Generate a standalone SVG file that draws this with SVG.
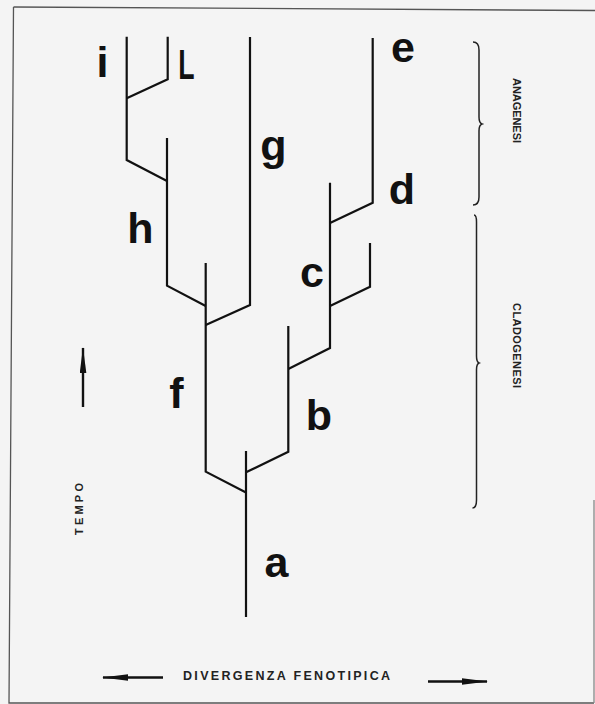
<svg xmlns="http://www.w3.org/2000/svg" width="595" height="704" viewBox="0 0 595 704">
  <style>
    .br { fill: none; stroke: #111; stroke-width: 2.2; stroke-linejoin: miter; stroke-linecap: butt; }
    .lbl { font-family: "Liberation Sans", Arial, sans-serif; font-weight: bold; font-size: 43px; fill: #111; text-anchor: middle; }
    .cap { font-family: "Liberation Sans", Arial, sans-serif; font-weight: bold; font-size: 11px; fill: #222; text-anchor: middle; }
    .brace { fill: none; stroke: #222; stroke-width: 1.5; }
    .ax { stroke: #111; stroke-width: 2.4; fill: none; }
  </style>
  <defs>
    <marker id="arr" viewBox="0 -3.5 26 7" markerWidth="26" markerHeight="7" refX="25" refY="0" orient="auto" markerUnits="userSpaceOnUse">
      <path d="M0,-3.3 L26,0 L0,3.3 Z" fill="#111"/>
    </marker>
  </defs>
  <rect x="0" y="0" width="595" height="704" fill="#f4f4f4"/>
  <g id="frame" fill="none" stroke="#555" stroke-width="1.3">
    <path d="M13.5,7 L595,10.5"/>
    <path d="M13.5,7 L9,703 L594,703"/>
    <path d="M594,500 L594,703" stroke="#888"/>
  </g>

  <g id="connectors">
    <path class="br" d="M246,617 V451"/>
    <path class="br" d="M246,492.5 L205.7,471.7 V263"/>
    <path class="br" d="M246,472.3 L288.3,451.7 V326"/>
    <path class="br" d="M288.3,369 L330,348 V182.7"/>
    <path class="br" d="M330,306 L370,286.7 V243"/>
    <path class="br" d="M330,223 L372.7,202.7 V38"/>
    <path class="br" d="M205.7,325 L250,305 V37"/>
    <path class="br" d="M205.7,306 L167,285.7 V138"/>
    <path class="br" d="M167,181 L126.7,160 V36.7"/>
    <path class="br" d="M126.7,98.3 L167.7,79.3 V36.7"/>
  </g>

  <g id="node-a"><text class="lbl" x="276.5" y="577">a</text></g>
  <g id="node-b"><text class="lbl" x="319" y="430">b</text></g>
  <g id="node-c"><text class="lbl" x="312" y="287">c</text></g>
  <g id="node-d"><text class="lbl" x="402" y="204">d</text></g>
  <g id="node-e"><text class="lbl" x="403" y="62">e</text></g>
  <g id="node-f"><text class="lbl" x="176.5" y="408">f</text></g>
  <g id="node-g"><text class="lbl" x="273.5" y="160">g</text></g>
  <g id="node-h"><text class="lbl" x="140.5" y="243">h</text></g>
  <g id="node-i"><text class="lbl" x="102.5" y="77">i</text></g>
  <g id="node-l"><text class="lbl" transform="translate(186.5,79) scale(0.62,1)" x="0" y="0">L</text></g>

  <g id="braces">
    <path class="brace" d="M473,42 Q479,42 479,50 L479,117 Q479,123 482,124 Q479,125 479,131 L479,197 Q479,205 473,205"/>
    <path class="brace" d="M474,215 Q476.5,215 476.5,222 L476.5,356 Q476.5,362 479,363 Q476.5,364 476.5,370 L476.5,500 Q476.5,508 472.5,508"/>
  </g>
  <g id="label-anagenesi"><text class="cap" transform="translate(513,110.5) rotate(90)" textLength="65" lengthAdjust="spacing">ANAGENESI</text></g>
  <g id="label-cladogenesi"><text class="cap" transform="translate(513,345.5) rotate(90)" textLength="85" lengthAdjust="spacing">CLADOGENESI</text></g>

  <g id="axis-tempo">
    <line class="ax" x1="83" y1="407" x2="83" y2="348" marker-end="url(#arr)"/>
    <text class="cap" transform="translate(83,509) rotate(-90)" textLength="52" lengthAdjust="spacing">TEMPO</text>
  </g>
  <g id="axis-divergenza">
    <line class="ax" x1="163" y1="677.5" x2="103" y2="677.5" marker-end="url(#arr)"/>
    <line class="ax" x1="428" y1="681.5" x2="487" y2="681.5" marker-end="url(#arr)"/>
    <text class="cap" x="286.5" y="680" style="font-size:12.5px" textLength="207" lengthAdjust="spacing">DIVERGENZA FENOTIPICA</text>
  </g>
</svg>
